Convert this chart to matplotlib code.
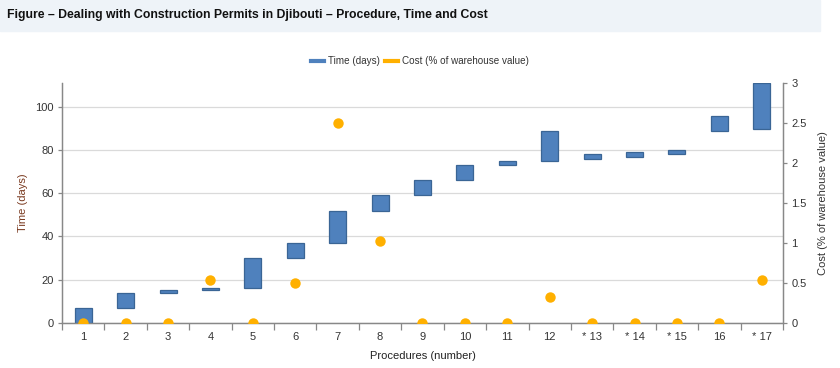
import matplotlib
matplotlib.use('Agg')
import matplotlib.pyplot as plt
from matplotlib.lines import Line2D
from matplotlib.patches import Rectangle

# Procedures on the x axis (* = simultaneous with previous)
procedures = ['1', '2', '3', '4', '5', '6', '7', '8', '9', '10', '11', '12',
              '* 13', '* 14', '* 15', '16', '* 17']

# Time (days): each bar floats from start to end
time_start = [0, 7, 14, 15, 16, 30, 37, 52, 59, 66, 73, 75, 76, 77, 78, 89, 90]
time_end = [7, 14, 15, 16, 30, 37, 52, 59, 66, 73, 75, 89, 78, 79, 80, 96, 111]

# Cost (% of warehouse value)
cost = [0, 0, 0, 0.53, 0, 0.5, 2.5, 1.03, 0, 0, 0, 0.32, 0, 0, 0, 0, 0.53]

blue = '#4F81BD'
blue_edge = '#3A6595'
orange = '#FFB000'
text_col = '#333333'

plt.rcParams['font.family'] = ['Liberation Sans', 'DejaVu Sans']

fig = plt.figure(figsize=(8.4, 3.68), dpi=100)

# title band
fig.patches.append(Rectangle((0, 1 - 31 / 368), 820 / 840, 31 / 368,
                             transform=fig.transFigure, color='#EEF3F8',
                             zorder=0))
fig.text(7 / 840, 1 - 15 / 368,
         'Figure – Dealing with Construction Permits in Djibouti – Procedure, Time and Cost',
         fontsize=8.8, fontweight='bold', color='#111111', va='center')

ax = fig.add_axes([62 / 840, 1 - 322.7 / 368, 721 / 840, 239.4 / 368])
ax2 = ax.twinx()

x = list(range(len(procedures)))
heights = [e - s for s, e in zip(time_start, time_end)]
ax.bar(x, heights, bottom=time_start, width=0.4, color=blue,
       edgecolor=blue_edge, linewidth=0.9, zorder=3)

ax2.plot(x, cost, 'o', color=orange, markersize=7.5, markeredgewidth=0,
         zorder=4)

ax.set_xlim(-0.5, len(procedures) - 0.5)
ax.set_ylim(0, 111)
ax2.set_ylim(0, 3)

ax.set_yticks([0, 20, 40, 60, 80, 100])
ax2.set_yticks([0, 0.5, 1, 1.5, 2, 2.5, 3])
ax2.set_yticklabels(['0', '0.5', '1', '1.5', '2', '2.5', '3'])

ax.set_xticks(x)
ax.set_xticklabels(procedures)
ax.set_xticks([i - 0.5 for i in range(len(procedures) + 1)], minor=True)
ax.tick_params(axis='x', which='major', length=0, pad=7, labelsize=8,
               labelcolor=text_col)
ax.tick_params(axis='x', which='minor', length=5, color='#888888', width=0.9)
ax.tick_params(axis='y', length=3, color='#888888', width=0.9, labelsize=8,
               labelcolor=text_col, pad=3)
ax2.tick_params(axis='y', length=3, color='#888888', width=0.9, labelsize=8,
                labelcolor=text_col, pad=3)

ax.grid(axis='y', color='#DADADA', linewidth=0.9, zorder=0)
ax.set_axisbelow(True)

for a in (ax, ax2):
    a.spines['top'].set_visible(False)
    for s in ('left', 'right', 'bottom'):
        a.spines[s].set_color('#888888')
        a.spines[s].set_linewidth(0.9)

ax.set_xlabel('Procedures (number)', fontsize=8, color='#222222', labelpad=6)
ax.set_ylabel('Time (days)', fontsize=8, color='#7A3A20', labelpad=5)
ax2.set_ylabel('Cost (% of warehouse value)', fontsize=8, color='#333333',
               labelpad=8)

handles = [Line2D([], [], color=blue, linewidth=3),
           Line2D([], [], color=orange, linewidth=3)]
fig.legend(handles, ['Time (days)', 'Cost (% of warehouse value)'],
           loc='center', bbox_to_anchor=(420 / 840, 1 - 61 / 368), ncol=2,
           frameon=False, fontsize=7.1, handlelength=1.3, handletextpad=0.4,
           columnspacing=0.6, labelcolor='#333333')

fig.savefig('out.png', dpi=100)
